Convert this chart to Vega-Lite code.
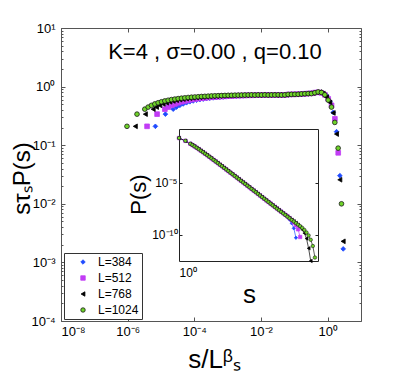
{
"$schema": "https://vega.github.io/schema/vega-lite/v6.json",
"width": 300, "height": 293,
"autosize": {"type": "none"},
"padding": {"left": 61, "top": 28, "right": 38, "bottom": 53},
"background": "white",
"config": {
  "view": {"stroke": null},
  "font": "Liberation Sans",
  "axis": {"grid": false, "labelFont": "Liberation Sans", "titleFont": "Liberation Sans", "labelColor": "#000", "titleColor": "#000", "titleFontWeight": "normal", "domainColor": "#555", "tickColor": "#555", "labelFontSize": 13}
},
"data": {"values": [
{"L":"L=384","x":6.782e-6,"y":0.21,"s":1,"p":0.21},
{"L":"L=384","x":1.356e-5,"y":0.339,"s":2,"p":0.1133},
{"L":"L=384","x":2.324e-5,"y":0.412,"s":3.428,"p":0.0588},
{"L":"L=384","x":2.926e-5,"y":0.447,"s":4.315,"p":0.0443},
{"L":"L=384","x":3.684e-5,"y":0.479,"s":5.433,"p":0.033},
{"L":"L=384","x":4.638e-5,"y":0.506,"s":6.839,"p":0.02424},
{"L":"L=384","x":5.839e-5,"y":0.53,"s":8.61,"p":0.01765},
{"L":"L=384","x":7.35e-5,"y":0.551,"s":10.84,"p":0.01276},
{"L":"L=384","x":9.254e-5,"y":0.569,"s":13.65,"p":0.00916},
{"L":"L=384","x":1.165e-4,"y":0.585,"s":17.18,"p":0.00654},
{"L":"L=384","x":1.467e-4,"y":0.6,"s":21.63,"p":0.00466},
{"L":"L=384","x":1.846e-4,"y":0.612,"s":27.23,"p":0.00331},
{"L":"L=384","x":2.324e-4,"y":0.624,"s":34.28,"p":0.002343},
{"L":"L=384","x":2.926e-4,"y":0.634,"s":43.15,"p":0.001655},
{"L":"L=384","x":3.684e-4,"y":0.643,"s":54.33,"p":0.001166},
{"L":"L=384","x":4.638e-4,"y":0.652,"s":68.39,"p":8.22e-4},
{"L":"L=384","x":5.839e-4,"y":0.659,"s":86.1,"p":5.78e-4},
{"L":"L=384","x":7.35e-4,"y":0.665,"s":108.4,"p":4.05e-4},
{"L":"L=384","x":9.254e-4,"y":0.671,"s":136.5,"p":2.843e-4},
{"L":"L=384","x":1.165e-3,"y":0.678,"s":171.8,"p":1.994e-4},
{"L":"L=384","x":1.467e-3,"y":0.682,"s":216.3,"p":1.395e-4},
{"L":"L=384","x":1.846e-3,"y":0.687,"s":272.3,"p":9.76e-5},
{"L":"L=384","x":2.324e-3,"y":0.692,"s":342.8,"p":6.83e-5},
{"L":"L=384","x":2.926e-3,"y":0.697,"s":431.5,"p":4.78e-5},
{"L":"L=384","x":3.684e-3,"y":0.7,"s":543.3,"p":3.34e-5},
{"L":"L=384","x":4.638e-3,"y":0.703,"s":683.9,"p":2.332e-5},
{"L":"L=384","x":5.839e-3,"y":0.706,"s":861,"p":1.628e-5},
{"L":"L=384","x":7.35e-3,"y":0.71,"s":1084,"p":1.137e-5},
{"L":"L=384","x":9.254e-3,"y":0.711,"s":1365,"p":7.92e-6},
{"L":"L=384","x":1.165e-2,"y":0.713,"s":1718,"p":5.52e-6},
{"L":"L=384","x":1.467e-2,"y":0.715,"s":2163,"p":3.84e-6},
{"L":"L=384","x":1.846e-2,"y":0.716,"s":2723,"p":2.677e-6},
{"L":"L=384","x":2.324e-2,"y":0.718,"s":3428,"p":1.865e-6},
{"L":"L=384","x":2.926e-2,"y":0.721,"s":4315,"p":1.299e-6},
{"L":"L=384","x":3.684e-2,"y":0.717,"s":5433,"p":9.03e-7},
{"L":"L=384","x":4.638e-2,"y":0.72,"s":6839,"p":6.28e-7},
{"L":"L=384","x":5.839e-2,"y":0.725,"s":8610,"p":4.39e-7},
{"L":"L=384","x":7.35e-2,"y":0.734,"s":10840,"p":3.09e-7},
{"L":"L=384","x":9.254e-2,"y":0.738,"s":13650,"p":2.162e-7},
{"L":"L=384","x":0.1165,"y":0.74,"s":17180,"p":1.506e-7},
{"L":"L=384","x":0.1467,"y":0.745,"s":21630,"p":1.054e-7},
{"L":"L=384","x":0.1846,"y":0.75,"s":27230,"p":7.37e-8},
{"L":"L=384","x":0.2324,"y":0.757,"s":34280,"p":5.18e-8},
{"L":"L=384","x":0.2926,"y":0.765,"s":43150,"p":3.64e-8},
{"L":"L=384","x":0.3684,"y":0.78,"s":54330,"p":2.575e-8},
{"L":"L=384","x":0.4638,"y":0.8,"s":68390,"p":1.836e-8},
{"L":"L=384","x":0.5839,"y":0.79,"s":86100,"p":1.26e-8},
{"L":"L=384","x":0.735,"y":0.75,"s":108400,"p":8.31e-9},
{"L":"L=384","x":0.9254,"y":0.708,"s":136500,"p":5.45e-9},
{"L":"L=384","x":1.165,"y":0.562,"s":171800,"p":3.01e-9},
{"L":"L=384","x":1.467,"y":0.363,"s":216300,"p":1.351e-9},
{"L":"L=384","x":1.846,"y":0.17,"s":272300,"p":4.4e-10},
{"L":"L=384","x":2.324,"y":0.0302,"s":342800,"p":5.43e-11},
{"L":"L=384","x":2.926,"y":0.0017,"s":431500,"p":null},
{"L":"L=512","x":3.815e-6,"y":0.21,"s":1,"p":0.21},
{"L":"L=512","x":7.629e-6,"y":0.339,"s":2,"p":0.1133},
{"L":"L=512","x":1.308e-5,"y":0.412,"s":3.428,"p":0.0588},
{"L":"L=512","x":1.646e-5,"y":0.447,"s":4.315,"p":0.0443},
{"L":"L=512","x":2.073e-5,"y":0.479,"s":5.433,"p":0.033},
{"L":"L=512","x":2.609e-5,"y":0.506,"s":6.839,"p":0.02424},
{"L":"L=512","x":3.285e-5,"y":0.53,"s":8.61,"p":0.01765},
{"L":"L=512","x":4.134e-5,"y":0.551,"s":10.84,"p":0.01276},
{"L":"L=512","x":5.205e-5,"y":0.569,"s":13.65,"p":0.00916},
{"L":"L=512","x":6.553e-5,"y":0.585,"s":17.18,"p":0.00654},
{"L":"L=512","x":8.25e-5,"y":0.6,"s":21.63,"p":0.00466},
{"L":"L=512","x":1.039e-4,"y":0.612,"s":27.23,"p":0.00331},
{"L":"L=512","x":1.308e-4,"y":0.624,"s":34.28,"p":0.002343},
{"L":"L=512","x":1.646e-4,"y":0.634,"s":43.15,"p":0.001655},
{"L":"L=512","x":2.073e-4,"y":0.643,"s":54.33,"p":0.001166},
{"L":"L=512","x":2.609e-4,"y":0.652,"s":68.39,"p":8.22e-4},
{"L":"L=512","x":3.285e-4,"y":0.659,"s":86.1,"p":5.78e-4},
{"L":"L=512","x":4.134e-4,"y":0.665,"s":108.4,"p":4.05e-4},
{"L":"L=512","x":5.205e-4,"y":0.671,"s":136.5,"p":2.843e-4},
{"L":"L=512","x":6.553e-4,"y":0.678,"s":171.8,"p":1.994e-4},
{"L":"L=512","x":8.25e-4,"y":0.682,"s":216.3,"p":1.395e-4},
{"L":"L=512","x":1.039e-3,"y":0.687,"s":272.3,"p":9.76e-5},
{"L":"L=512","x":1.308e-3,"y":0.692,"s":342.8,"p":6.83e-5},
{"L":"L=512","x":1.646e-3,"y":0.697,"s":431.5,"p":4.78e-5},
{"L":"L=512","x":2.073e-3,"y":0.7,"s":543.3,"p":3.34e-5},
{"L":"L=512","x":2.609e-3,"y":0.703,"s":683.9,"p":2.332e-5},
{"L":"L=512","x":3.285e-3,"y":0.706,"s":861,"p":1.628e-5},
{"L":"L=512","x":4.134e-3,"y":0.71,"s":1084,"p":1.137e-5},
{"L":"L=512","x":5.205e-3,"y":0.711,"s":1365,"p":7.92e-6},
{"L":"L=512","x":6.553e-3,"y":0.713,"s":1718,"p":5.52e-6},
{"L":"L=512","x":8.25e-3,"y":0.715,"s":2163,"p":3.84e-6},
{"L":"L=512","x":1.039e-2,"y":0.716,"s":2723,"p":2.677e-6},
{"L":"L=512","x":1.308e-2,"y":0.718,"s":3428,"p":1.865e-6},
{"L":"L=512","x":1.646e-2,"y":0.72,"s":4315,"p":1.299e-6},
{"L":"L=512","x":2.073e-2,"y":0.717,"s":5433,"p":9.03e-7},
{"L":"L=512","x":2.609e-2,"y":0.722,"s":6839,"p":6.28e-7},
{"L":"L=512","x":3.285e-2,"y":0.719,"s":8610,"p":4.36e-7},
{"L":"L=512","x":4.134e-2,"y":0.721,"s":10840,"p":3.03e-7},
{"L":"L=512","x":5.205e-2,"y":0.72,"s":13650,"p":2.107e-7},
{"L":"L=512","x":6.553e-2,"y":0.734,"s":17180,"p":1.494e-7},
{"L":"L=512","x":8.25e-2,"y":0.737,"s":21630,"p":1.043e-7},
{"L":"L=512","x":0.1039,"y":0.739,"s":27230,"p":7.26e-8},
{"L":"L=512","x":0.1308,"y":0.742,"s":34280,"p":5.07e-8},
{"L":"L=512","x":0.1646,"y":0.75,"s":43150,"p":3.57e-8},
{"L":"L=512","x":0.2073,"y":0.755,"s":54330,"p":2.49e-8},
{"L":"L=512","x":0.2609,"y":0.762,"s":68390,"p":1.749e-8},
{"L":"L=512","x":0.3285,"y":0.77,"s":86100,"p":1.228e-8},
{"L":"L=512","x":0.4134,"y":0.79,"s":108400,"p":8.75e-9},
{"L":"L=512","x":0.5205,"y":0.8,"s":136500,"p":6.16e-9},
{"L":"L=512","x":0.6553,"y":0.78,"s":171800,"p":4.17e-9},
{"L":"L=512","x":0.825,"y":0.724,"s":216300,"p":2.69e-9},
{"L":"L=512","x":1.039,"y":0.617,"s":272300,"p":1.596e-9},
{"L":"L=512","x":1.308,"y":0.479,"s":342800,"p":8.61e-10},
{"L":"L=512","x":1.646,"y":0.282,"s":431500,"p":3.52e-10},
{"L":"L=512","x":2.073,"y":0.0741,"s":543300,"p":6.44e-11},
{"L":"L=768","x":1.695e-6,"y":0.21,"s":1,"p":0.21},
{"L":"L=768","x":3.39e-6,"y":0.339,"s":2,"p":0.1133},
{"L":"L=768","x":5.811e-6,"y":0.412,"s":3.428,"p":0.0588},
{"L":"L=768","x":7.316e-6,"y":0.447,"s":4.315,"p":0.0443},
{"L":"L=768","x":9.21e-6,"y":0.479,"s":5.433,"p":0.033},
{"L":"L=768","x":1.159e-5,"y":0.506,"s":6.839,"p":0.02424},
{"L":"L=768","x":1.46e-5,"y":0.53,"s":8.61,"p":0.01765},
{"L":"L=768","x":1.838e-5,"y":0.551,"s":10.84,"p":0.01276},
{"L":"L=768","x":2.313e-5,"y":0.569,"s":13.65,"p":0.00916},
{"L":"L=768","x":2.912e-5,"y":0.585,"s":17.18,"p":0.00654},
{"L":"L=768","x":3.667e-5,"y":0.6,"s":21.63,"p":0.00466},
{"L":"L=768","x":4.616e-5,"y":0.612,"s":27.23,"p":0.00331},
{"L":"L=768","x":5.811e-5,"y":0.624,"s":34.28,"p":0.002343},
{"L":"L=768","x":7.316e-5,"y":0.634,"s":43.15,"p":0.001655},
{"L":"L=768","x":9.21e-5,"y":0.643,"s":54.33,"p":0.001166},
{"L":"L=768","x":1.159e-4,"y":0.652,"s":68.39,"p":8.22e-4},
{"L":"L=768","x":1.46e-4,"y":0.659,"s":86.1,"p":5.78e-4},
{"L":"L=768","x":1.838e-4,"y":0.665,"s":108.4,"p":4.05e-4},
{"L":"L=768","x":2.313e-4,"y":0.671,"s":136.5,"p":2.843e-4},
{"L":"L=768","x":2.912e-4,"y":0.678,"s":171.8,"p":1.994e-4},
{"L":"L=768","x":3.667e-4,"y":0.682,"s":216.3,"p":1.395e-4},
{"L":"L=768","x":4.616e-4,"y":0.687,"s":272.3,"p":9.76e-5},
{"L":"L=768","x":5.811e-4,"y":0.692,"s":342.8,"p":6.83e-5},
{"L":"L=768","x":7.316e-4,"y":0.697,"s":431.5,"p":4.78e-5},
{"L":"L=768","x":9.21e-4,"y":0.7,"s":543.3,"p":3.34e-5},
{"L":"L=768","x":1.159e-3,"y":0.703,"s":683.9,"p":2.332e-5},
{"L":"L=768","x":1.46e-3,"y":0.706,"s":861,"p":1.628e-5},
{"L":"L=768","x":1.838e-3,"y":0.71,"s":1084,"p":1.137e-5},
{"L":"L=768","x":2.313e-3,"y":0.711,"s":1365,"p":7.92e-6},
{"L":"L=768","x":2.912e-3,"y":0.713,"s":1718,"p":5.52e-6},
{"L":"L=768","x":3.667e-3,"y":0.715,"s":2163,"p":3.84e-6},
{"L":"L=768","x":4.616e-3,"y":0.716,"s":2723,"p":2.677e-6},
{"L":"L=768","x":5.811e-3,"y":0.718,"s":3428,"p":1.865e-6},
{"L":"L=768","x":7.316e-3,"y":0.721,"s":4315,"p":1.299e-6},
{"L":"L=768","x":9.21e-3,"y":0.718,"s":5433,"p":9.03e-7},
{"L":"L=768","x":1.159e-2,"y":0.722,"s":6839,"p":6.28e-7},
{"L":"L=768","x":1.46e-2,"y":0.719,"s":8610,"p":4.36e-7},
{"L":"L=768","x":1.838e-2,"y":0.72,"s":10840,"p":3.03e-7},
{"L":"L=768","x":2.313e-2,"y":0.723,"s":13650,"p":2.107e-7},
{"L":"L=768","x":2.912e-2,"y":0.718,"s":17180,"p":1.464e-7},
{"L":"L=768","x":3.667e-2,"y":0.721,"s":21630,"p":1.018e-7},
{"L":"L=768","x":4.616e-2,"y":0.72,"s":27230,"p":7.07e-8},
{"L":"L=768","x":5.811e-2,"y":0.724,"s":34280,"p":4.95e-8},
{"L":"L=768","x":7.316e-2,"y":0.735,"s":43150,"p":3.49e-8},
{"L":"L=768","x":9.21e-2,"y":0.737,"s":54330,"p":2.433e-8},
{"L":"L=768","x":0.1159,"y":0.74,"s":68390,"p":1.698e-8},
{"L":"L=768","x":0.146,"y":0.742,"s":86100,"p":1.183e-8},
{"L":"L=768","x":0.1838,"y":0.752,"s":108400,"p":8.33e-9},
{"L":"L=768","x":0.2313,"y":0.756,"s":136500,"p":5.82e-9},
{"L":"L=768","x":0.2912,"y":0.765,"s":171800,"p":4.09e-9},
{"L":"L=768","x":0.3667,"y":0.775,"s":216300,"p":2.88e-9},
{"L":"L=768","x":0.4616,"y":0.8,"s":272300,"p":2.07e-9},
{"L":"L=768","x":0.5811,"y":0.805,"s":342800,"p":1.447e-9},
{"L":"L=768","x":0.7316,"y":0.76,"s":431500,"p":9.5e-10},
{"L":"L=768","x":0.921,"y":0.66,"s":543300,"p":5.73e-10},
{"L":"L=768","x":1.159,"y":0.537,"s":683900,"p":3.24e-10},
{"L":"L=768","x":1.46,"y":0.355,"s":861000,"p":1.49e-10},
{"L":"L=768","x":1.838,"y":0.155,"s":1084000,"p":4.52e-11},
{"L":"L=768","x":2.313,"y":0.0257,"s":1365000,"p":5.21e-12},
{"L":"L=768","x":2.912,"y":0.00229,"s":1718000,"p":3.22e-13},
{"L":"L=1024","x":9.537e-7,"y":0.21,"s":1,"p":0.21},
{"L":"L=1024","x":1.907e-6,"y":0.339,"s":2,"p":0.1133},
{"L":"L=1024","x":3.268e-6,"y":0.412,"s":3.428,"p":0.0588},
{"L":"L=1024","x":4.114e-6,"y":0.447,"s":4.315,"p":0.0443},
{"L":"L=1024","x":5.18e-6,"y":0.479,"s":5.433,"p":0.033},
{"L":"L=1024","x":6.521e-6,"y":0.506,"s":6.839,"p":0.02424},
{"L":"L=1024","x":8.209e-6,"y":0.53,"s":8.61,"p":0.01765},
{"L":"L=1024","x":1.034e-5,"y":0.551,"s":10.84,"p":0.01276},
{"L":"L=1024","x":1.301e-5,"y":0.569,"s":13.65,"p":0.00916},
{"L":"L=1024","x":1.638e-5,"y":0.585,"s":17.18,"p":0.00654},
{"L":"L=1024","x":2.062e-5,"y":0.6,"s":21.63,"p":0.00466},
{"L":"L=1024","x":2.596e-5,"y":0.612,"s":27.23,"p":0.00331},
{"L":"L=1024","x":3.268e-5,"y":0.624,"s":34.28,"p":0.002343},
{"L":"L=1024","x":4.114e-5,"y":0.634,"s":43.15,"p":0.001655},
{"L":"L=1024","x":5.18e-5,"y":0.643,"s":54.33,"p":0.001166},
{"L":"L=1024","x":6.521e-5,"y":0.652,"s":68.39,"p":8.22e-4},
{"L":"L=1024","x":8.209e-5,"y":0.659,"s":86.1,"p":5.78e-4},
{"L":"L=1024","x":1.034e-4,"y":0.665,"s":108.4,"p":4.05e-4},
{"L":"L=1024","x":1.301e-4,"y":0.671,"s":136.5,"p":2.843e-4},
{"L":"L=1024","x":1.638e-4,"y":0.678,"s":171.8,"p":1.994e-4},
{"L":"L=1024","x":2.062e-4,"y":0.682,"s":216.3,"p":1.395e-4},
{"L":"L=1024","x":2.596e-4,"y":0.687,"s":272.3,"p":9.76e-5},
{"L":"L=1024","x":3.268e-4,"y":0.692,"s":342.8,"p":6.83e-5},
{"L":"L=1024","x":4.114e-4,"y":0.697,"s":431.5,"p":4.78e-5},
{"L":"L=1024","x":5.18e-4,"y":0.7,"s":543.3,"p":3.34e-5},
{"L":"L=1024","x":6.521e-4,"y":0.703,"s":683.9,"p":2.332e-5},
{"L":"L=1024","x":8.209e-4,"y":0.706,"s":861,"p":1.628e-5},
{"L":"L=1024","x":1.034e-3,"y":0.71,"s":1084,"p":1.137e-5},
{"L":"L=1024","x":1.301e-3,"y":0.711,"s":1365,"p":7.92e-6},
{"L":"L=1024","x":1.638e-3,"y":0.713,"s":1718,"p":5.52e-6},
{"L":"L=1024","x":2.062e-3,"y":0.715,"s":2163,"p":3.84e-6},
{"L":"L=1024","x":2.596e-3,"y":0.716,"s":2723,"p":2.677e-6},
{"L":"L=1024","x":3.268e-3,"y":0.718,"s":3428,"p":1.865e-6},
{"L":"L=1024","x":4.114e-3,"y":0.719,"s":4315,"p":1.299e-6},
{"L":"L=1024","x":5.18e-3,"y":0.722,"s":5433,"p":9.03e-7},
{"L":"L=1024","x":6.521e-3,"y":0.717,"s":6839,"p":6.28e-7},
{"L":"L=1024","x":8.209e-3,"y":0.721,"s":8610,"p":4.36e-7},
{"L":"L=1024","x":1.034e-2,"y":0.719,"s":10840,"p":3.03e-7},
{"L":"L=1024","x":1.301e-2,"y":0.722,"s":13650,"p":2.107e-7},
{"L":"L=1024","x":1.638e-2,"y":0.718,"s":17180,"p":1.464e-7},
{"L":"L=1024","x":2.062e-2,"y":0.721,"s":21630,"p":1.018e-7},
{"L":"L=1024","x":2.596e-2,"y":0.72,"s":27230,"p":7.07e-8},
{"L":"L=1024","x":3.268e-2,"y":0.723,"s":34280,"p":4.92e-8},
{"L":"L=1024","x":4.114e-2,"y":0.719,"s":43150,"p":3.42e-8},
{"L":"L=1024","x":5.18e-2,"y":0.722,"s":54330,"p":2.375e-8},
{"L":"L=1024","x":6.521e-2,"y":0.735,"s":68390,"p":1.687e-8},
{"L":"L=1024","x":8.209e-2,"y":0.737,"s":86100,"p":1.175e-8},
{"L":"L=1024","x":0.1034,"y":0.738,"s":108400,"p":8.18e-9},
{"L":"L=1024","x":0.1301,"y":0.74,"s":136500,"p":5.7e-9},
{"L":"L=1024","x":0.1638,"y":0.75,"s":171800,"p":4.01e-9},
{"L":"L=1024","x":0.2062,"y":0.755,"s":216300,"p":2.81e-9},
{"L":"L=1024","x":0.2596,"y":0.76,"s":272300,"p":1.966e-9},
{"L":"L=1024","x":0.3268,"y":0.76,"s":342800,"p":1.366e-9},
{"L":"L=1024","x":0.4114,"y":0.785,"s":431500,"p":9.81e-10},
{"L":"L=1024","x":0.518,"y":0.81,"s":543300,"p":7.04e-10},
{"L":"L=1024","x":0.6521,"y":0.794,"s":683900,"p":4.79e-10},
{"L":"L=1024","x":0.8209,"y":0.724,"s":861000,"p":3.04e-10},
{"L":"L=1024","x":1.034,"y":0.589,"s":1084000,"p":1.718e-10},
{"L":"L=1024","x":1.301,"y":0.447,"s":1365000,"p":9.06e-11},
{"L":"L=1024","x":1.638,"y":0.245,"s":1718000,"p":3.45e-11},
{"L":"L=1024","x":2.062,"y":0.0891,"s":2163000,"p":8.72e-12},
{"L":"L=1024","x":2.596,"y":0.01,"s":2723000,"p":6.8e-13}
]},
"resolve": {"scale": {"x": "independent", "y": "independent"}, "axis": {"x": "independent", "y": "independent"}},
"layer": [
{
  "mark": {"type": "point", "filled": true, "size": 22, "strokeWidth": 0.8, "opacity": 1},
  "encoding": {
    "x": {"field": "x", "type": "quantitative",
      "scale": {"type": "log", "domain": [1e-8, 10], "nice": false},
      "axis": {"orient": "bottom", "values": [1e-8, 1e-6, 1e-4, 1e-2, 1], "tickSize": -4, "labelPadding": 8,
        "labelExpr": "datum.value >= 0.5 ? '10⁰' : datum.value >= 0.005 ? '10⁻²' : datum.value >= 5e-5 ? '10⁻⁴' : datum.value >= 5e-7 ? '10⁻⁶' : '10⁻⁸'",
        "title": "s/Lᵝₛ", "titleFontSize": 26, "titleX": 153, "titleY": 46, "titleBaseline": "alphabetic", "titleAlign": "center"}},
    "y": {"field": "y", "type": "quantitative",
      "scale": {"type": "log", "domain": [1e-4, 10], "nice": false},
      "axis": {"orient": "left", "values": [1e-4, 1e-3, 1e-2, 1e-1, 1, 10], "tickSize": -4, "labelPadding": 10,
        "labelExpr": "datum.value >= 5 ? '10¹' : datum.value >= 0.5 ? '10⁰' : datum.value >= 0.05 ? '10⁻¹' : datum.value >= 0.005 ? '10⁻²' : datum.value >= 5e-4 ? '10⁻³' : '10⁻⁴'",
        "title": "sτₛP(s)", "titleFontSize": 24, "titleAngle": 270, "titleX": -32, "titleY": 150, "titleBaseline": "alphabetic", "titleAlign": "center"}},
    "fill": {"field": "L", "type": "nominal",
      "scale": {"domain": ["L=384", "L=512", "L=768", "L=1024"], "range": ["#1f4bff", "#c23cf5", "#000000", "#6fd42a"]},
      "legend": {"orient": "none", "legendX": 3, "legendY": 225, "title": null, "strokeColor": "#333", "fillColor": "white", "padding": 3, "labelFontSize": 12, "labelFont": "Liberation Sans", "symbolSize": 20, "symbolOffset": 10, "labelOffset": 9, "rowPadding": 4, "symbolStrokeWidth": 0.8}},
    "stroke": {"field": "L", "type": "nominal",
      "scale": {"domain": ["L=384", "L=512", "L=768", "L=1024"], "range": ["#1f4bff", "#c23cf5", "#000000", "#1a1a1a"]},
      "legend": {"orient": "none", "legendX": 3, "legendY": 225, "title": null, "strokeColor": "#333", "fillColor": "white", "padding": 3, "labelFontSize": 12, "labelFont": "Liberation Sans", "symbolSize": 20, "symbolOffset": 10, "labelOffset": 9, "rowPadding": 4, "symbolStrokeWidth": 0.8}},
    "shape": {"field": "L", "type": "nominal",
      "scale": {"domain": ["L=384", "L=512", "L=768", "L=1024"], "range": ["diamond", "square", "triangle-left", "circle"]},
      "legend": {"orient": "none", "legendX": 3, "legendY": 225, "title": null, "strokeColor": "#333", "fillColor": "white", "padding": 3, "labelFontSize": 12, "labelFont": "Liberation Sans", "symbolSize": 20, "symbolOffset": 10, "labelOffset": 9, "rowPadding": 4, "symbolStrokeWidth": 0.8}}
  }
},
{
  "mark": {"type": "point", "opacity": 0},
  "encoding": {
    "x": {"field": "x", "type": "quantitative", "scale": {"type": "log", "domain": [1e-8, 10], "nice": false},
      "axis": {"orient": "top", "values": [1e-8, 1e-6, 1e-4, 1e-2, 1], "tickSize": -4, "labels": false, "title": null}},
    "y": {"field": "y", "type": "quantitative", "scale": {"type": "log", "domain": [1e-4, 10], "nice": false},
      "axis": {"orient": "right", "values": [1e-4, 1e-3, 1e-2, 1e-1, 1, 10], "tickSize": -4, "labels": false, "title": null}}
  }
},
{
  "mark": {"type": "point", "opacity": 0},
  "encoding": {
    "x": {"field": "x", "type": "quantitative", "scale": {"type": "log", "domain": [1e-8, 10], "nice": false}, "axis": null},
    "y": {"field": "y", "type": "quantitative", "scale": {"type": "log", "domain": [1e-4, 10], "nice": false},
      "axis": {"orient": "left", "domain": false, "labels": false, "title": null, "tickSize": -2,
        "values": [2e-4,3e-4,4e-4,5e-4,6e-4,7e-4,8e-4,9e-4,2e-3,3e-3,4e-3,5e-3,6e-3,7e-3,8e-3,9e-3,2e-2,3e-2,4e-2,5e-2,6e-2,7e-2,8e-2,9e-2,0.2,0.3,0.4,0.5,0.6,0.7,0.8,0.9,2,3,4,5,6,7,8,9]}}
  }
},
{
  "mark": {"type": "point", "opacity": 0},
  "encoding": {
    "x": {"field": "x", "type": "quantitative", "scale": {"type": "log", "domain": [1e-8, 10], "nice": false}, "axis": null},
    "y": {"field": "y", "type": "quantitative", "scale": {"type": "log", "domain": [1e-4, 10], "nice": false},
      "axis": {"orient": "right", "domain": false, "labels": false, "title": null, "tickSize": -2,
        "values": [2e-4,3e-4,4e-4,5e-4,6e-4,7e-4,8e-4,9e-4,2e-3,3e-3,4e-3,5e-3,6e-3,7e-3,8e-3,9e-3,2e-2,3e-2,4e-2,5e-2,6e-2,7e-2,8e-2,9e-2,0.2,0.3,0.4,0.5,0.6,0.7,0.8,0.9,2,3,4,5,6,7,8,9]}}
  }
},
{
  "mark": {"type": "line", "strokeWidth": 0.7},
  "encoding": {
    "x": {"field": "s", "type": "quantitative", "scale": {"type": "log", "domain": [1, 3.8e6], "range": [118, 257], "nice": false},
      "axis": {"orient": "bottom", "offset": -60, "values": [1], "ticks": false, "labelPadding": 6, "labelExpr": "'10⁰'", "labelFontSize": 12, "domainColor": "#222",
        "title": "s", "titleFontSize": 26, "titleX": 188, "titleY": 41, "titleBaseline": "alphabetic", "titleAlign": "center"}},
    "y": {"field": "p", "type": "quantitative", "scale": {"type": "log", "domain": [3.16e-13, 1.55], "range": [233, 101], "nice": false},
      "axis": {"orient": "left", "offset": -118, "values": [1e-5, 1e-10], "tickSize": -3, "labelPadding": 5, "labelFontSize": 12, "domainColor": "#222", "tickColor": "#222",
        "labelExpr": "datum.value > 1e-7 ? '10⁻⁵' : '10⁻¹⁰'",
        "title": "P(s)", "titleFontSize": 22, "titleAngle": 270, "titleX": -34, "titleY": 166, "titleBaseline": "alphabetic", "titleAlign": "center"}},
    "stroke": {"field": "L", "type": "nominal", "scale": {"domain": ["L=384", "L=512", "L=768", "L=1024"], "range": ["#1f4bff", "#c23cf5", "#000000", "#1a1a1a"]}, "legend": null}
  }
},
{
  "mark": {"type": "point", "filled": true, "size": 12, "strokeWidth": 0.6, "opacity": 1},
  "encoding": {
    "x": {"field": "s", "type": "quantitative", "scale": {"type": "log", "domain": [1, 3.8e6], "range": [118, 257], "nice": false},
      "axis": {"orient": "top", "offset": -101, "values": [1], "ticks": false, "labels": false, "title": null, "domainColor": "#222"}},
    "y": {"field": "p", "type": "quantitative", "scale": {"type": "log", "domain": [3.16e-13, 1.55], "range": [233, 101], "nice": false},
      "axis": {"orient": "right", "offset": -43, "values": [1e-5, 1e-10], "tickSize": -3, "labels": false, "title": null, "domainColor": "#222", "tickColor": "#222"}},
    "fill": {"field": "L", "type": "nominal", "scale": {"domain": ["L=384", "L=512", "L=768", "L=1024"], "range": ["#1f4bff", "#c23cf5", "#000000", "#6fd42a"]}, "legend": null},
    "stroke": {"field": "L", "type": "nominal", "scale": {"domain": ["L=384", "L=512", "L=768", "L=1024"], "range": ["#1f4bff", "#c23cf5", "#000000", "#1a1a1a"]}, "legend": null},
    "shape": {"field": "L", "type": "nominal", "scale": {"domain": ["L=384", "L=512", "L=768", "L=1024"], "range": ["diamond", "square", "triangle-left", "circle"]}, "legend": null}
  }
},
{
  "data": {"values": [{}]},
  "mark": {"type": "text", "fontSize": 22, "font": "Liberation Sans", "baseline": "middle", "align": "center", "color": "#000"},
  "encoding": {
    "x": {"datum": 4.15e-4, "type": "quantitative", "scale": {"type": "log", "domain": [1e-8, 10], "nice": false}, "axis": null},
    "y": {"datum": 3.96, "type": "quantitative", "scale": {"type": "log", "domain": [1e-4, 10], "nice": false}, "axis": null},
    "text": {"value": "K=4 , σ=0.00 , q=0.10"}
  }
}
]
}
